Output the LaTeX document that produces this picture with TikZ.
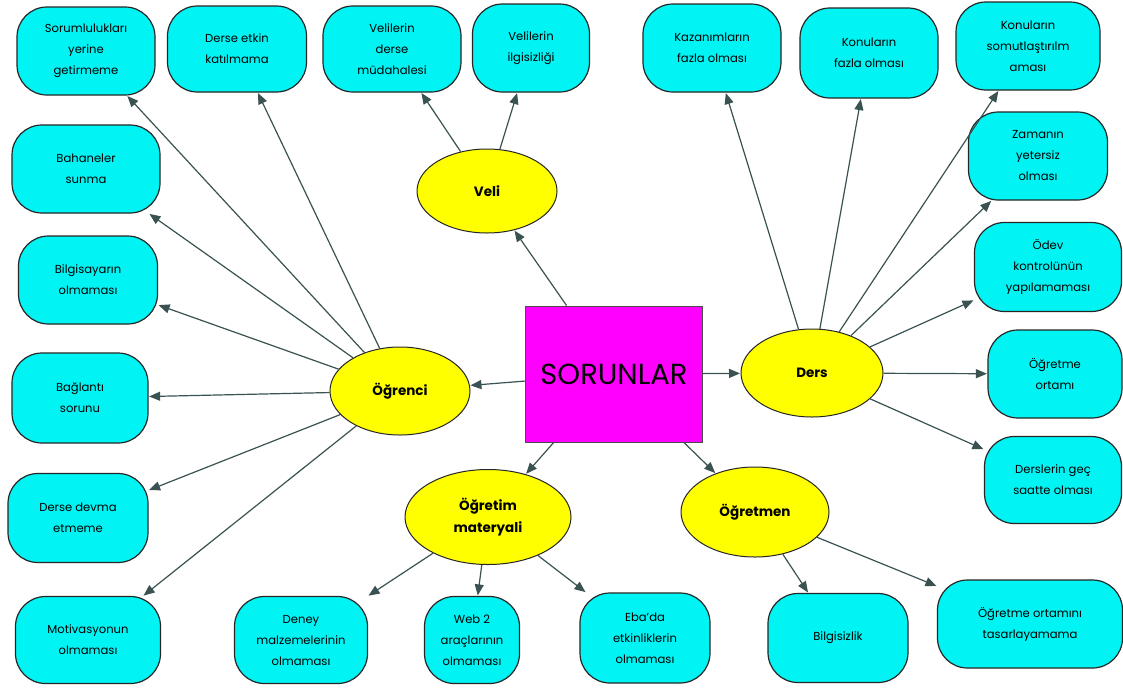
\documentclass[tikz,border=0pt]{standalone}
\usepackage{fontspec}
\setmainfont{Poppins}
\usetikzlibrary{shapes.geometric,arrows.meta}
\definecolor{leafcyan}{HTML}{00F4F4}
\definecolor{catyellow}{HTML}{FFFF00}
\definecolor{hubmagenta}{HTML}{FF00FF}
\definecolor{linkgray}{HTML}{3A5252}
\tikzset{
  leaf/.style 2 args={draw=black!85, line width=1.2pt, fill=leafcyan,
    rounded corners=30pt, align=center, inner sep=0pt,
    minimum width=#1pt, minimum height=#2pt,
    font=\fontsize{11.6}{21}\selectfont},
  cat/.style 2 args={ellipse, draw=black!85, line width=1pt, fill=catyellow,
    align=center, inner sep=0pt, minimum width=#1pt, minimum height=#2pt,
    font=\fontsize{13.5}{22}\selectfont\bfseries},
  hub/.style={draw=black!70, line width=1pt, fill=hubmagenta, inner sep=0pt,
    minimum width=177pt, minimum height=136pt,
    font=\fontsize{29}{32}\selectfont},
  link/.style={draw=linkgray, line width=1.2pt,
    -{Triangle[length=11pt,width=9pt]}, shorten >=0.5pt}
}
\begin{document}
\begin{tikzpicture}[x=1pt,y=-1pt]
\useasboundingbox (0,0) rectangle (1123,691);
\fill[white] (0,0) rectangle (1123,691);

% central problem and the five categories
\node[hub] (s) at (614,374) {SORUNLAR};
\node[cat={140}{84}] (veli) at (487,191) {Veli};
\node[cat={140}{88}] (ogr) at (400,391) {Öğrenci};
\node[cat={142}{88}] (ders) at (812,373) {Ders};
\node[cat={166}{95}] (mat) at (488,517) {Öğretim\\materyali};
\node[cat={148}{90}] (ogt) at (755,512) {Öğretmen};

% top row
\node[leaf={138}{88}] (l1) at (86,51) {Sorumlulukları\\yerine\\getirmeme};
\node[leaf={139}{86}] (l2) at (237,49) {Derse etkin\\katılmama};
\node[leaf={138}{86}] (l3) at (392,49) {Velilerin\\derse\\müdahalesi};
\node[leaf={117}{88}] (l4) at (531,48) {Velilerin\\ilgisizliği};
\node[leaf={138}{88}] (l5) at (712,48) {Kazanımların\\fazla olması};
\node[leaf={138}{90}] (l6) at (869,53) {Konuların\\fazla olması};
\node[leaf={144}{88}] (l7) at (1028,46) {Konuların\\somutlaştırılm\\aması};

% left column
\node[leaf={148}{88}] (l8) at (86,169) {Bahaneler\\sunma};
\node[leaf={139}{88}] (l9) at (88,280) {Bilgisayarın\\olmaması};
\node[leaf={136}{90}] (l10) at (80,398) {Bağlantı\\sorunu};
\node[leaf={140}{89}] (l11) at (78,518) {Derse devma\\etmeme};
\node[leaf={145}{87}] (l12) at (88,640) {Motivasyonun\\olmaması};

% right column
\node[leaf={139}{88}] (l13) at (1038,156) {Zamanın\\yetersiz\\olması};
\node[leaf={147}{89}] (l14) at (1048,267) {Ödev\\kontrolünün\\yapılamaması};
\node[leaf={134}{88}] (l15) at (1055,374) {Öğretme\\ortamı};
\node[leaf={137}{87}] (l16) at (1053,480) {Derslerin geç\\saatte olması};

% bottom row
\node[leaf={133}{87}] (l17) at (301,640) {Deney\\malzemelerinin\\olmaması};
\node[leaf={95}{87}] (l18) at (472,640) {Web 2\\araçlarının\\olmaması};
\node[leaf={130}{90}] (l19) at (645,638) {Eba'da\\etkinliklerin\\olmaması};
\node[leaf={140}{89}] (l20) at (838,638) {Bilgisizlik};
\node[leaf={185}{88}] (l21) at (1030,624) {Öğretme ortamını\\tasarlayamama};

% links from the centre
\draw[link] (s) -- (veli);
\draw[link] (s) -- (ogr);
\draw[link] (s) -- (ders);
\draw[link] (s) -- (mat);
\draw[link] (s) -- (ogt);

% category links
\foreach \t in {l3,l4} \draw[link] (veli) -- (\t);
\foreach \t in {l1,l2,l8,l9,l10,l11,l12} \draw[link] (ogr) -- (\t);
\foreach \t in {l5,l6,l7,l13,l14,l15,l16} \draw[link] (ders) -- (\t);
\foreach \t in {l17,l18,l19} \draw[link] (mat) -- (\t);
\foreach \t in {l20,l21} \draw[link] (ogt) -- (\t);
\end{tikzpicture}
\end{document}
